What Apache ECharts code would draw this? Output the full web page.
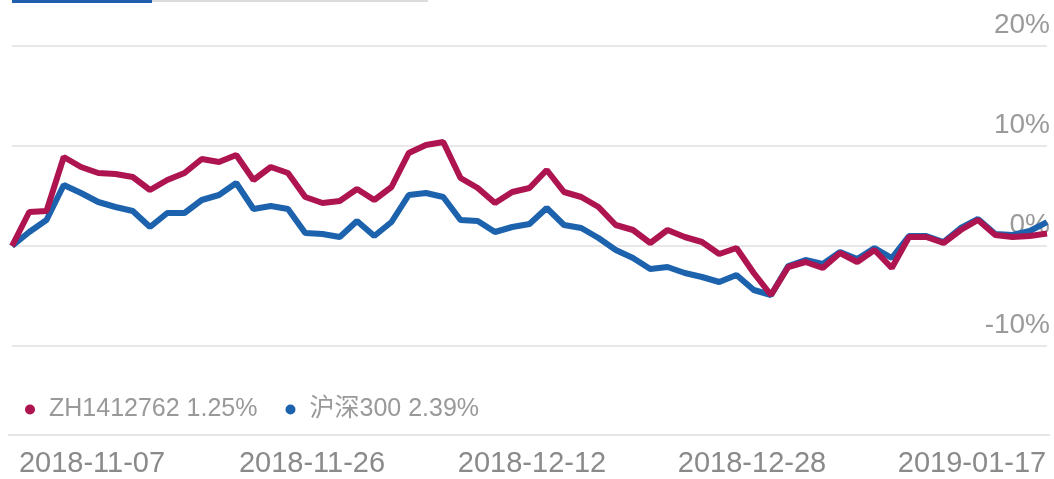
<!DOCTYPE html>
<html>
<head>
<meta charset="utf-8">
<script src="https://cdn.jsdelivr.net/npm/echarts@6/dist/echarts.min.js"></script>
<style>
html,body{margin:0;padding:0;background:#fff;}
#c{width:1054px;height:479px;}
</style>
</head>
<body>
<div id="c"></div>
<script>
// Point index along the period (61 observations)
const points = Array.from({length: 61}, (_, i) => String(i + 1));
// Date labels shown below the chart
const dateTicks = ['2018-11-07', '2018-11-26', '2018-12-12', '2018-12-28', '2019-01-17'];
// Cumulative return (%) of the portfolio
const portfolio = [0, 3.4, 3.5, 8.9, 7.9, 7.3, 7.2, 6.9, 5.6, 6.6,
  7.3, 8.7, 8.4, 9.1, 6.6, 7.9, 7.3, 4.9, 4.3, 4.5,
  5.7, 4.6, 5.9, 9.3, 10.1, 10.4, 6.8, 5.8, 4.3, 5.4,
  5.8, 7.6, 5.4, 4.9, 3.9, 2.1, 1.6, 0.3, 1.6, 0.9,
  0.4, -0.8, -0.2, -2.7, -4.9, -2.1, -1.6, -2.2, -0.7, -1.6,
  -0.4, -2.2, 0.9, 0.9, 0.3, 1.6, 2.6, 1.1, 0.9, 1.0, 1.25];
// Cumulative return (%) of the CSI 300 benchmark
const benchmark = [0, 1.4, 2.6, 6.1, 5.3, 4.4, 3.9, 3.5, 1.9, 3.3,
  3.3, 4.6, 5.1, 6.3, 3.7, 4.0, 3.7, 1.3, 1.2, 0.9,
  2.5, 1.0, 2.4, 5.1, 5.3, 4.9, 2.6, 2.5, 1.4, 1.9,
  2.2, 3.8, 2.1, 1.8, 0.8, -0.4, -1.2, -2.3, -2.1, -2.7,
  -3.1, -3.6, -2.9, -4.4, -4.9, -2.0, -1.4, -1.8, -0.6, -1.3,
  -0.2, -1.2, 1.0, 1.0, 0.4, 1.8, 2.7, 1.2, 1.1, 1.5, 2.39];
const seriesNames = ['ZH1412762', '沪深300'];
const finalReturns = {'ZH1412762': '1.25%', '沪深300': '2.39%'};
const yTicks = [-10, 0, 10, 20];

const FONT = '"Liberation Sans", "Noto Sans CJK SC", sans-serif';
const RED = '#ad1450';
const BLUE = '#1d62ad';

const chart = echarts.init(document.getElementById('c'), null, {renderer: 'canvas'});
chart.setOption({
  backgroundColor: '#fff',
  animation: false,
  graphic: [
    {type: 'rect', left: 12, top: 0, shape: {width: 140, height: 3}, style: {fill: '#1f5fae'}},
    {type: 'rect', left: 152, top: 0, shape: {width: 276, height: 2}, style: {fill: '#dcdcdc'}},
    {type: 'rect', left: 8, top: 434, shape: {width: 1042, height: 2}, style: {fill: '#e6e6e6'}}
  ],
  legend: {
    data: seriesNames,
    left: 20,
    top: 392,
    icon: 'circle',
    itemWidth: 10,
    itemHeight: 10,
    itemGap: 28,
    formatter: n => n + ' ' + finalReturns[n],
    textStyle: {fontSize: 25, color: '#999', fontFamily: FONT, padding: [0, 0, 0, 9]}
  },
  grid: [
    {left: 12, right: 7, top: 46, bottom: 133},
    {left: 92, right: 82, top: 430, height: 20}
  ],
  xAxis: [
    {
      type: 'category', gridIndex: 0, data: points, boundaryGap: false,
      axisLine: {show: false}, axisTick: {show: false}, axisLabel: {show: false}, splitLine: {show: false}
    },
    {
      type: 'category', gridIndex: 1, data: dateTicks, boundaryGap: false,
      axisLine: {show: false}, axisTick: {show: false}, splitLine: {show: false},
      axisLabel: {interval: 0, margin: 0, fontSize: 29, color: '#8a8a8a', fontFamily: FONT}
    }
  ],
  yAxis: [
    {
      type: 'value', gridIndex: 0, position: 'right',
      min: yTicks[0], max: yTicks[yTicks.length - 1], interval: 10,
      axisLine: {show: false}, axisTick: {show: false},
      splitLine: {lineStyle: {color: '#e8e8e8', width: 2}},
      axisLabel: {
        inside: true, margin: -3, formatter: '{value}%',
        verticalAlign: 'bottom', lineHeight: 28, padding: [0, 0, 7, 0],
        fontSize: 28, color: '#9a9a9a', fontFamily: FONT
      }
    },
    {type: 'value', gridIndex: 1, show: false}
  ],
  series: [
    {
      name: seriesNames[1], type: 'line', xAxisIndex: 0, yAxisIndex: 0,
      data: benchmark, symbol: 'none', smooth: false,
      itemStyle: {color: BLUE}, lineStyle: {color: BLUE, width: 6}
    },
    {
      name: seriesNames[0], type: 'line', xAxisIndex: 0, yAxisIndex: 0,
      data: portfolio, symbol: 'none', smooth: false,
      itemStyle: {color: RED}, lineStyle: {color: RED, width: 6}
    }
  ]
});
</script>
</body>
</html>
